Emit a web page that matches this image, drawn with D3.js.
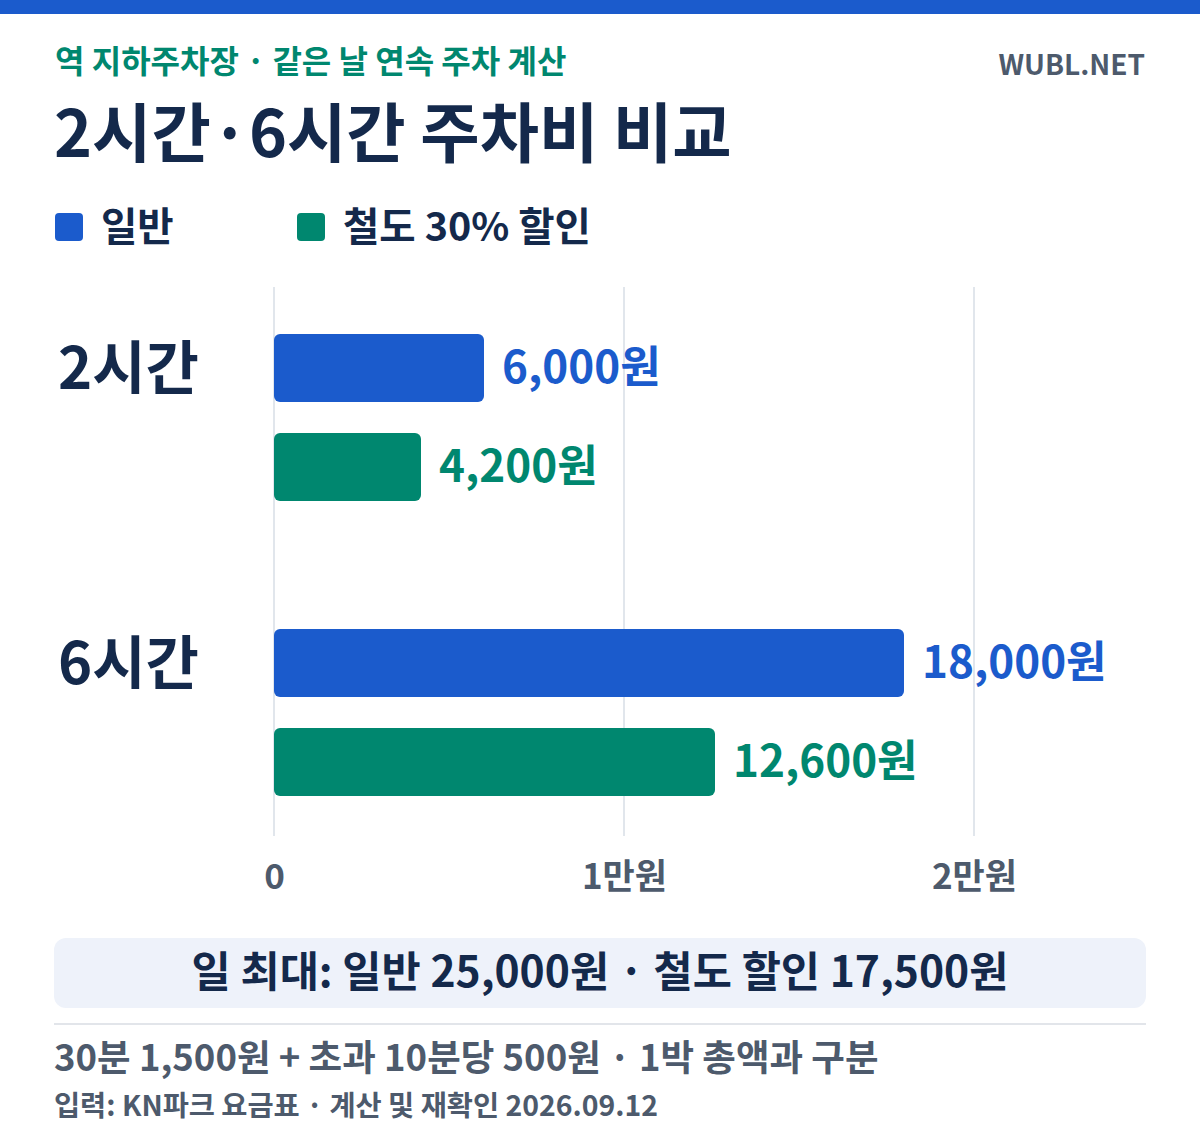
<!DOCTYPE html>
<html>
<head>
<meta charset="utf-8">
<script src="https://cdn.jsdelivr.net/npm/d3@7"></script>
<style>
  body { margin: 0; background: #fff; }
  svg { display: block; font-family: "Noto Sans CJK KR", "Noto Sans", sans-serif; }
</style>
</head>
<body>
<div id="chart"></div>
<script>
// 데이터
var groups = ["2시간", "6시간"];
var seriesNames = ["일반", "철도 30% 할인"];
var regularFees = [6000, 18000];
var railFees = [4200, 12600];
var tickValues = [0, 10000, 20000];
var tickLabels = ["0", "1만원", "2만원"];

var colors = ["#1b5bcc", "#00876f"];
var navy = "#14294b", gray = "#4d5a6c";

var width = 1200, height = 1140;
var svg = d3.select("#chart").append("svg")
  .attr("width", width).attr("height", height);

// 상단 띠
svg.append("rect").attr("x", 0).attr("y", 0).attr("width", width).attr("height", 14)
  .attr("fill", colors[0]);

svg.append("text").attr("x", 55).attr("y", 73)
  .attr("font-size", 32).attr("font-weight", 700).attr("fill", colors[1])
  .text("역 지하주차장 · 같은 날 연속 주차 계산");
svg.append("text").attr("x", 1145).attr("y", 75).attr("text-anchor", "end")
  .attr("font-size", 28).attr("font-weight", 700).attr("fill", gray)
  .text("WUBL.NET");
svg.append("text").attr("x", 54).attr("y", 157)
  .attr("font-size", 64.5).attr("font-weight", 700).attr("fill", navy)
  .text("2시간·6시간 주차비 비교");

// 범례
var legendX = [55, 297];
var legend = svg.selectAll("g.legend").data(seriesNames).enter().append("g")
  .attr("class", "legend")
  .attr("transform", function(d, i) { return "translate(" + legendX[i] + ",213)"; });
legend.append("rect").attr("width", 28).attr("height", 28).attr("rx", 4)
  .attr("fill", function(d, i) { return colors[i]; });
legend.append("text").attr("x", 46).attr("y", 28)
  .attr("font-size", 39.5).attr("font-weight", 700).attr("fill", navy)
  .text(function(d) { return d; });

// 축척
var x = d3.scaleLinear().domain([0, 20000]).range([274, 974]);
var y0 = d3.scaleBand().domain(groups).range([334, 796]).paddingInner(0.434);
var y1 = d3.scaleBand().domain([0, 1]).range([0, y0.bandwidth()]).paddingInner(0.313);

// 격자
svg.append("g").selectAll("line").data(tickValues).enter().append("line")
  .attr("x1", function(d) { return x(d); }).attr("x2", function(d) { return x(d); })
  .attr("y1", 287).attr("y2", 836)
  .attr("stroke", "#e1e6ec").attr("stroke-width", 2);

var xAxis = svg.append("g").attr("transform", "translate(0,836)")
  .call(d3.axisBottom(x).tickValues(tickValues).tickSize(0).tickPadding(28)
    .tickFormat(function(d, i) { return tickLabels[i]; }));
xAxis.select(".domain").remove();
xAxis.selectAll("text").attr("font-size", 35).attr("font-weight", 700)
  .attr("fill", gray).attr("font-family", "Noto Sans CJK KR");

// 막대
var rows = groups.map(function(g, i) { return { group: g, values: [regularFees[i], railFees[i]] }; });
var gRow = svg.selectAll("g.row").data(rows).enter().append("g").attr("class", "row")
  .attr("transform", function(d) { return "translate(0," + y0(d.group) + ")"; });

gRow.append("text").attr("x", 58).attr("y", y1(0) + y1.bandwidth() / 2 + 21)
  .attr("font-size", 58).attr("font-weight", 700).attr("fill", navy)
  .text(function(d) { return d.group; });

var bars = gRow.selectAll("g.bar").data(function(d) { return d.values; }).enter().append("g");
bars.append("rect")
  .attr("x", x(0)).attr("y", function(d, i) { return y1(i); })
  .attr("width", function(d) { return x(d) - x(0); })
  .attr("height", y1.bandwidth()).attr("rx", 6)
  .attr("fill", function(d, i) { return colors[i]; });
bars.append("text")
  .attr("x", function(d) { return x(d) + 18; })
  .attr("y", function(d, i) { return y1(i) + y1.bandwidth() / 2 + 15; })
  .attr("font-size", 44).attr("font-weight", 700)
  .attr("fill", function(d, i) { return colors[i]; })
  .text(function(d) { return d3.format(",")(d) + "원"; });

// 요약 상자
svg.append("rect").attr("x", 54).attr("y", 938).attr("width", 1092).attr("height", 70)
  .attr("rx", 12).attr("fill", "#eef2fa");
svg.append("text").attr("x", 600).attr("y", 987).attr("text-anchor", "middle")
  .attr("font-size", 42.6).attr("font-weight", 700).attr("fill", navy)
  .text("일 최대: 일반 25,000원 · 철도 할인 17,500원");

svg.append("line").attr("x1", 54).attr("x2", 1146).attr("y1", 1024).attr("y2", 1024)
  .attr("stroke", "#e2e5ea").attr("stroke-width", 2);

svg.append("text").attr("x", 54).attr("y", 1071)
  .attr("font-size", 36.5).attr("font-weight", 700).attr("fill", gray)
  .text("30분 1,500원 + 초과 10분당 500원 · 1박 총액과 구분");
svg.append("text").attr("x", 54).attr("y", 1116)
  .attr("font-size", 28.4).attr("font-weight", 700).attr("fill", gray)
  .text("입력: KN파크 요금표 · 계산 및 재확인 2026.09.12");
</script>
</body>
</html>
